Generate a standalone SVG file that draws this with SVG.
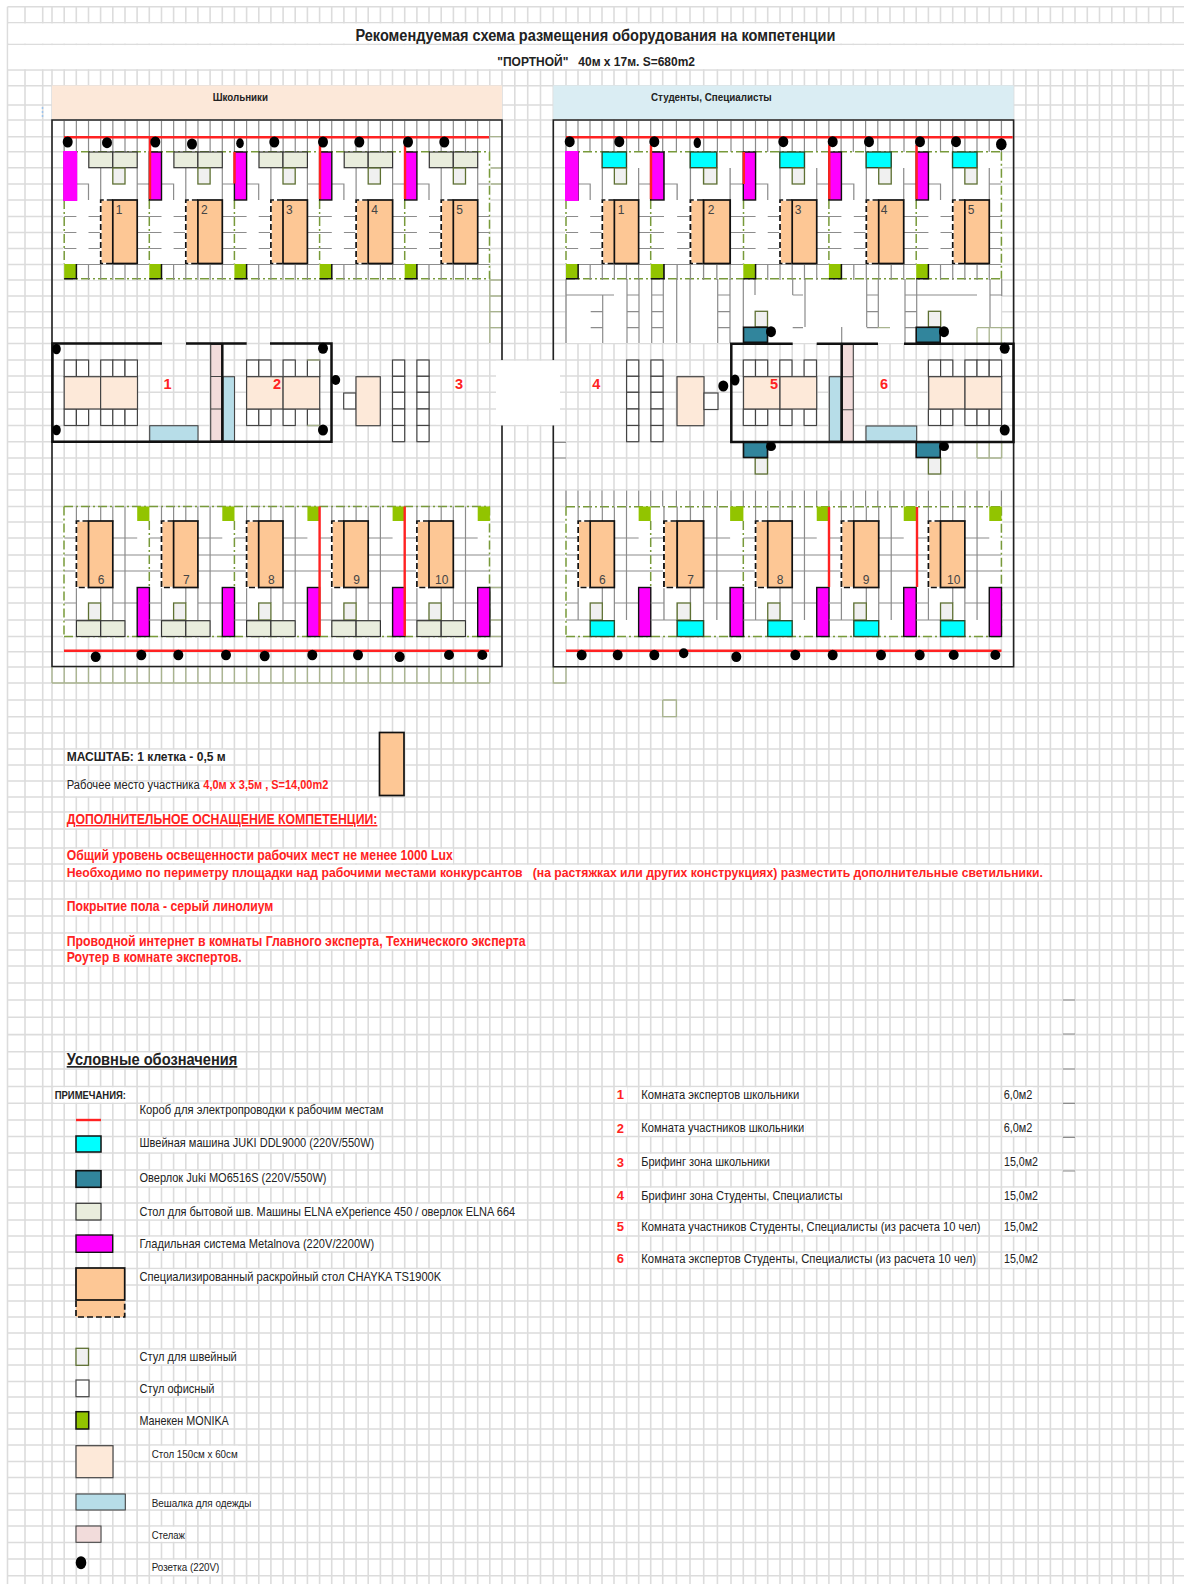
<svg xmlns="http://www.w3.org/2000/svg" xmlns:xlink="http://www.w3.org/1999/xlink" width="1184" height="1584" viewBox="0 0 1184 1584">
<style>
text{font-family:"Liberation Sans",Arial,sans-serif;fill:#222}
.b{font-weight:bold}
.r{fill:#f22;font-weight:bold}
.l{font-size:13px}
.k{font-size:12px}
.m{font-size:11px}
.n{font-size:12px;text-anchor:middle;fill:#444}
.rn{font-size:14.5px;font-weight:bold;fill:#f22;text-anchor:middle}
.u{text-decoration:underline}
.w{fill:#fff}
.g{fill:none;stroke:#8c8c8c;stroke-width:1.2}
.ol{fill:none;stroke:#a9b48f;stroke-width:1.3}
.f{fill:none;stroke:#222;stroke-width:1.6}
.wl{fill:none;stroke:#111;stroke-width:2.5}
.gd{fill:none;stroke:#789a3a;stroke-width:1.5;stroke-dasharray:9 3 2 3}
.gw{fill:none;stroke:#fff;stroke-width:2}
.rd{fill:none;stroke:#ff2222;stroke-width:2.4}
.mg{fill:#f0f;stroke:#111;stroke-width:1.4}
.mf{fill:#f0f}
.mn{fill:#92c400}
.o{fill:#fdc795}
.so{fill:#fdc795;stroke:#111;stroke-width:1.7}
.ds{fill:none;stroke:#111;stroke-width:1.7;stroke-dasharray:6 3}
.dw{fill:none;stroke:#fff;stroke-width:1.7}
.lt{fill:#e9eddd;stroke:#333;stroke-width:1.2}
.sc{fill:#f0f0f0;stroke:#5e7033;stroke-width:1.3}
.cy{fill:#0ff;stroke:#2b4a2b;stroke-width:1.4}
.te{fill:#31859c;stroke:#111;stroke-width:1.6}
.oc{fill:#fff;stroke:#444;stroke-width:1.2}
.t{fill:#fde9d9;stroke:#444;stroke-width:1.2}
.h{fill:#b7dde8;stroke:#444;stroke-width:1.1}
.s{fill:#f2dcdb;stroke:#444;stroke-width:1.1}
.dot{fill:#000}
</style>
<defs>
<path id="rv" d="M566 0v1M578 0v1M590 0v1M602 0v1M614 0v1M626.6 0v1M638.7 0v1M650.7 0v1M662.7 0v1M676.4 0v1M690 0v1M703.7 0v1M717.4 0v1M731 0v1M743.3 0v1M755.5 0v1M767.7 0v1M780 0v1M792.2 0v1M804.4 0v1M816.7 0v1M828.9 0v1M841.1 0v1M853.3 0v1M865.6 0v1M877.8 0v1M890 0v1M904 0v1M916.2 0v1M928.4 0v1M940.5 0v1M952.7 0v1M964.9 0v1M977 0v1M989.2 0v1M1001.4 0v1"/>
<g id="orT"><rect class="o" x="36.5" y="200" width="13" height="63.5"/><path class="dw" d="M48.6 200H36.5V263.5H48.6"/><path class="ds" d="M48.6 200H36.5V263.5H48.6"/><rect class="so" x="48.6" y="200" width="24.4" height="63.5"/></g>
<g id="orB"><rect class="o" x="12.2" y="521" width="13" height="66.5"/><path class="dw" d="M24.3 521H12.2V587.5H24.3"/><path class="ds" d="M24.3 521H12.2V587.5H24.3"/><rect class="so" x="24.3" y="521" width="24.3" height="66.5"/></g>
<g id="wsT">
<path class="g" d="M12.2 184H24.3V200M36.5 168V200M73 168V200M73 184H85.1M0 216.5H12.2M24.3 216.5H36.5M73 216.5H85.1M0 232.5H12.2M24.3 232.5H36.5M73 232.5H85.1M0 248.5H12.2M24.3 248.5H36.5M73 248.5H85.1M12.2 264.5H85.1M24.3 264.5V280M36.5 264.5V280M48.6 264.5V280M60.8 264.5V280M73 264.5V280"/>
<rect class="mg" x="0" y="152" width="12.2" height="48"/>
<use href="#orT"/>
<rect class="mn" x="0" y="264" width="12.2" height="14.7"/><path fill="none" stroke="#111" stroke-width="1.5" d="M12.2 264V278.7H0"/>
</g>
<g id="wsB">
<path class="g" d="M12.2 506.5V522M24.3 506.5V522M36.5 506.5V522M48.6 506.5V522M60.8 506.5V522M60.8 522V587.5M0 538H12.2M48.6 538H73M0 555H12.2M48.6 555H85.1M0 571H12.2M48.6 571H85.1M12.2 587.5V620M36.5 587.5V603M48.6 587.5V620M60.8 587.5V620M0 603H12.2M48.6 603H73M0 620H24.3"/>
<use href="#orB"/>
<rect class="mn" x="73" y="506.5" width="12.2" height="14.5"/>
<rect class="mg" x="73" y="587.5" width="12.2" height="49"/>
</g>
<g id="wsTa"><use href="#wsT"/><rect class="lt" x="24.6" y="152" width="24" height="15.7"/><rect class="lt" x="48.6" y="152" width="24.4" height="15.7"/><rect class="sc" x="48.6" y="168" width="12.2" height="16"/></g>
<g id="wsBa"><use href="#wsB"/><rect class="sc" x="24.3" y="603" width="12.2" height="17"/><rect class="lt" x="12.2" y="620.7" width="24.3" height="15.8"/><rect class="lt" x="36.5" y="620.7" width="24.3" height="15.8"/></g>
<g id="wsTb"><use href="#wsT"/><rect class="cy" x="36.3" y="152" width="24.5" height="15.7"/><rect class="sc" x="48.6" y="168" width="12.2" height="16"/></g>
<g id="wsBb"><use href="#wsB"/><rect class="sc" x="24.3" y="603" width="12.2" height="17"/><rect class="cy" x="24.3" y="620.7" width="24.3" height="15.8"/></g>
<g id="cSet5"><rect class="oc" x="0" y="360" width="12.2" height="16.5"/><rect class="oc" x="12.2" y="360" width="12.2" height="16.5"/><rect class="oc" x="36.5" y="360" width="12.2" height="16.5"/><rect class="oc" x="48.6" y="360" width="12.2" height="16.5"/><rect class="oc" x="60.8" y="360" width="12.4" height="16.5"/><rect class="oc" x="0" y="409" width="12.2" height="16.5"/><rect class="oc" x="12.2" y="409" width="12.2" height="16.5"/><rect class="oc" x="36.5" y="409" width="12.2" height="16.5"/><rect class="oc" x="48.6" y="409" width="12.2" height="16.5"/><rect class="oc" x="60.8" y="409" width="12.4" height="16.5"/></g>
<g id="cSet4"><rect class="oc" x="0" y="360" width="12.2" height="16.5"/><rect class="oc" x="12.2" y="360" width="12.2" height="16.5"/><rect class="oc" x="36.5" y="360" width="12.2" height="16.5"/><rect class="oc" x="60.8" y="360" width="12.4" height="16.5"/><rect class="oc" x="0" y="409" width="12.2" height="16.5"/><rect class="oc" x="12.2" y="409" width="12.2" height="16.5"/><rect class="oc" x="36.5" y="409" width="12.2" height="16.5"/><rect class="oc" x="60.8" y="409" width="12.4" height="16.5"/></g>
<g id="cCol"><rect class="oc" x="0" y="360" width="12.2" height="16.3"/><rect class="oc" x="0" y="376.3" width="12.2" height="16"/><rect class="oc" x="0" y="392.3" width="12.2" height="16.7"/><rect class="oc" x="0" y="409" width="12.2" height="16.5"/><rect class="oc" x="0" y="425.5" width="12.2" height="16.2"/></g>
</defs>

<g id="grid" fill="none" stroke="#dcdcdc" stroke-width="1.6">
<path d="M7.5 6.7V1584M25 6.7V1584M42.7 6.7V1584M52 6.7V1584M64.2 6.7V1584M76.3 6.7V1584M88.5 6.7V1584M100.6 6.7V1584M112.8 6.7V1584M125 6.7V1584M137.1 6.7V1584M149.3 6.7V1584M161.5 6.7V1584M173.6 6.7V1584M185.8 6.7V1584M197.9 6.7V1584M210.1 6.7V1584M222.3 6.7V1584M234.4 6.7V1584M246.6 6.7V1584M258.8 6.7V1584M270.9 6.7V1584M283.1 6.7V1584M295.2 6.7V1584M307.4 6.7V1584M319.6 6.7V1584M331.7 6.7V1584M343.9 6.7V1584M356.1 6.7V1584M368.2 6.7V1584M380.4 6.7V1584M392.5 6.7V1584M404.7 6.7V1584M416.9 6.7V1584M429 6.7V1584M441.2 6.7V1584M453.4 6.7V1584M465.5 6.7V1584M477.7 6.7V1584M489.8 6.7V1584M502 6.7V1584M514.8 6.7V1584M527.7 6.7V1584M540.5 6.7V1584M553.3 6.7V1584M566 6.7V1584M578 6.7V1584M590 6.7V1584M602 6.7V1584M614 6.7V1584M626.6 6.7V1584M638.7 6.7V1584M650.7 6.7V1584M662.7 6.7V1584M676.4 6.7V1584M690 6.7V1584M703.7 6.7V1584M717.4 6.7V1584M731 6.7V1584M743.3 6.7V1584M755.5 6.7V1584M767.7 6.7V1584M780 6.7V1584M792.2 6.7V1584M804.4 6.7V1584M816.7 6.7V1584M828.9 6.7V1584M841.1 6.7V1584M853.3 6.7V1584M865.6 6.7V1584M877.8 6.7V1584M890 6.7V1584M904 6.7V1584M916.2 6.7V1584M928.4 6.7V1584M940.5 6.7V1584M952.7 6.7V1584M964.9 6.7V1584M977 6.7V1584M989.2 6.7V1584M1001.4 6.7V1584M1013.6 6.7V1584M1025.9 6.7V1584M1038.2 6.7V1584M1050.4 6.7V1584M1062.7 6.7V1584M1075 6.7V1584M1087.3 6.7V1584M1099.5 6.7V1584M1111.8 6.7V1584M1124.1 6.7V1584M1136.4 6.7V1584M1148.6 6.7V1584M1160.9 6.7V1584M1173.2 6.7V1584"/>
<path d="M7.5 6.7H1184M7.5 22.7H1184M7.5 44.3H1184M7.5 70H1184M7.5 85.7H1184M7.5 105H1184M7.5 120H1184M7.5 136.7H1184M7.5 151.7H1184M7.5 167.7H1184M7.5 184H1184M7.5 200H1184M7.5 216.5H1184M7.5 232.5H1184M7.5 248.5H1184M7.5 264.5H1184M7.5 280H1184M7.5 296H1184M7.5 311.7H1184M7.5 327.7H1184M7.5 343.5H1184M7.5 360H1184M7.5 376H1184M7.5 392.3H1184M7.5 409H1184M7.5 425.5H1184M7.5 441.7H1184M7.5 458H1184M7.5 474H1184M7.5 490H1184M7.5 506.5H1184M7.5 522H1184M7.5 538H1184M7.5 555H1184M7.5 571H1184M7.5 587.5H1184M7.5 603H1184M7.5 620H1184M7.5 636.5H1184M7.5 651.7H1184M7.5 667H1184M7.5 683H1184M7.5 700H1184M7.5 716.7H1184M7.5 733H1184M7.5 749H1184M7.5 765H1184M7.5 781H1184M7.5 797H1184M7.5 812H1184M7.5 829H1184M7.5 848H1184M7.5 864H1184M7.5 881H1184M7.5 899H1184M7.5 916H1184M7.5 933H1184M7.5 950H1184M7.5 966H1184M7.5 983H1184M7.5 1000H1184M7.5 1017.3H1184M7.5 1034.6H1184M7.5 1051.8H1184M7.5 1069H1184M7.5 1086.5H1184M7.5 1103.3H1184M7.5 1120H1184M7.5 1136.5H1184M7.5 1153H1184M7.5 1170H1184M7.5 1187H1184M7.5 1203H1184M7.5 1220H1184M7.5 1236H1184M7.5 1252H1184M7.5 1268.5H1184M7.5 1285H1184M7.5 1301H1184M7.5 1317H1184M7.5 1333H1184M7.5 1349H1184M7.5 1365H1184M7.5 1381.5H1184M7.5 1397H1184M7.5 1413H1184M7.5 1429H1184M7.5 1445H1184M7.5 1461.5H1184M7.5 1477.5H1184M7.5 1493.5H1184M7.5 1510H1184M7.5 1526H1184M7.5 1542.5H1184M7.5 1559H1184M7.5 1575.7H1184"/>
</g>

<g id="cell-backgrounds">
<rect class="w" x="8.5" y="23.5" width="1176" height="20"/>
<rect class="w" x="8.5" y="45.1" width="1176" height="24"/>
<rect class="w" x="496" y="360.8" width="64" height="64"/>
<rect class="w" x="65" y="121" width="424" height="159"/>
<rect class="w" x="567" y="121" width="434" height="222"/>
<rect class="w" x="65" y="507.3" width="424" height="129"/>
<rect class="w" x="567" y="490.8" width="434" height="145.6"/>
<rect class="w" x="66" y="749.8" width="160" height="14.4"/>
<rect class="w" x="66" y="781.8" width="263" height="14.4"/>
<rect class="w" x="66" y="812.8" width="312" height="15.4"/>
<rect class="w" x="66" y="848.8" width="387" height="14.4"/>
<rect class="w" x="66" y="864.8" width="978" height="15.4"/>
<rect class="w" x="66" y="899.8" width="208" height="15.4"/>
<rect class="w" x="66" y="933.8" width="460" height="15.4"/>
<rect class="w" x="66" y="950.8" width="176" height="14.4"/>
<rect class="w" x="66" y="1052.6" width="172" height="15.6"/>
<rect class="w" x="54" y="1087.3" width="72" height="15.2"/>
<rect class="w" x="139" y="1104.1" width="245" height="15.1"/>
<rect class="w" x="139" y="1137.3" width="236" height="14.9"/>
<rect class="w" x="139" y="1170.8" width="188" height="15.4"/>
<rect class="w" x="139" y="1203.8" width="377" height="15.4"/>
<rect class="w" x="139" y="1236.8" width="236" height="14.4"/>
<rect class="w" x="139" y="1269.3" width="303" height="14.9"/>
<rect class="w" x="139" y="1349.8" width="98" height="14.4"/>
<rect class="w" x="139" y="1382.3" width="76" height="13.9"/>
<rect class="w" x="139" y="1413.8" width="90" height="14.4"/>
<rect class="w" x="151" y="1445.8" width="87" height="14.9"/>
<rect class="w" x="151" y="1494.3" width="101" height="14.9"/>
<rect class="w" x="151" y="1526.8" width="34" height="14.9"/>
<rect class="w" x="151" y="1559.8" width="69" height="15.1"/>
<rect class="w" x="615" y="1087.3" width="12" height="15.2"/><rect class="w" x="640" y="1087.3" width="160" height="15.2"/><rect class="w" x="1003" y="1087.3" width="30" height="15.2"/>
<rect class="w" x="615" y="1120.8" width="12" height="14.9"/><rect class="w" x="640" y="1120.8" width="165" height="14.9"/><rect class="w" x="1003" y="1120.8" width="30" height="14.9"/>
<rect class="w" x="615" y="1153.8" width="12" height="15.4"/><rect class="w" x="640" y="1153.8" width="131" height="15.4"/><rect class="w" x="1003" y="1153.8" width="36" height="15.4"/>
<rect class="w" x="615" y="1187.8" width="12" height="14.4"/><rect class="w" x="640" y="1187.8" width="203" height="14.4"/><rect class="w" x="1003" y="1187.8" width="36" height="14.4"/>
<rect class="w" x="615" y="1220.8" width="12" height="14.4"/><rect class="w" x="640" y="1220.8" width="341" height="14.4"/><rect class="w" x="1003" y="1220.8" width="36" height="14.4"/>
<rect class="w" x="615" y="1252.8" width="12" height="14.9"/><rect class="w" x="640" y="1252.8" width="336" height="14.9"/><rect class="w" x="1003" y="1252.8" width="36" height="14.9"/>
</g>

<g id="title">
<text class="b" font-size="16" x="355.4" y="40.5" textLength="480" lengthAdjust="spacingAndGlyphs">Рекомендуемая схема размещения оборудования на компетенции</text>
<text class="b" font-size="13.5" x="497.3" y="65.5" textLength="197.7" lengthAdjust="spacingAndGlyphs" xml:space="preserve">"ПОРТНОЙ"   40м х 17м. S=680m2</text>
<path fill="none" stroke="#9cc3ec" stroke-width="1.5" stroke-dasharray="2 2" d="M42.5 107V118"/>
</g>

<g id="hall-school">
<rect id="band-school" x="52" y="85.5" width="450" height="33.5" fill="#fce8d9"/>
<text class="b" font-size="10.5" x="212.7" y="101" textLength="55.3" lengthAdjust="spacingAndGlyphs">Школьники</text>
<path fill="none" stroke="#8c8c8c" stroke-width="31" stroke-dasharray="1.2 10.96" d="M63.6 136.5H490"/>
<path class="ol" d="M489.8 136.7H502M489.8 168H502M489.8 184H502M489.8 280H502M489.8 296H502M489.8 311.7H502M489.8 327.7H502M489.8 264V343M489.8 587.5H502M489.8 620H502M489.8 636.5H502M52 683H490M52 667V683M64.2 667V683M76.3 667V683M88.5 667V683M100.6 667V683M112.8 667V683M125 667V683M137.1 667V683M149.3 667V683M161.5 667V683M173.6 667V683M185.8 667V683M197.9 667V683M210.1 667V683M222.3 667V683M234.4 667V683M246.6 667V683M258.8 667V683M270.9 667V683M283.1 667V683M295.2 667V683M307.4 667V683M319.6 667V683M331.7 667V683M343.9 667V683M356.1 667V683M368.2 667V683M380.4 667V683M392.5 667V683M404.7 667V683M416.9 667V683M429 667V683M441.2 667V683M453.4 667V683M465.5 667V683M477.7 667V683M489.8 667V683"/>
<path class="gw" d="M64.2 200V263.5M149.3 200V263.5M234.4 200V263.5M319.6 200V263.5M404.7 200V263.5M489.5 152V278M64 507V637M149.3 521V587M234.4 521V587M489.5 507V637"/>
<path class="gd" d="M64 151.7H489.5M64 278.7H489.5M64.2 200V263.5M149.3 200V263.5M234.4 200V263.5M319.6 200V263.5M404.7 200V263.5M489.5 151.7V278.7M64 506.5H489.5M64 636.5H489.5M64 506.5V636.5M149.3 521V587M234.4 521V587M489.5 506.5V636.5"/>
<g id="ws-a1" transform="translate(64.2)"><use href="#wsTa"/><rect class="mf" x="-1" y="151" width="14" height="50"/><text class="n" x="55" y="213.5">1</text></g>
<g id="ws-a2" transform="translate(149.3)"><use href="#wsTa"/><text class="n" x="55" y="213.5">2</text></g>
<g id="ws-a3" transform="translate(234.4)"><use href="#wsTa"/><text class="n" x="55" y="213.5">3</text></g>
<g id="ws-a4" transform="translate(319.6)"><use href="#wsTa"/><text class="n" x="55" y="213.5">4</text></g>
<g id="ws-a5" transform="translate(404.7)"><use href="#wsTa"/><text class="n" x="55" y="213.5">5</text></g>
<g id="ws-a6" transform="translate(64.2)"><use href="#wsBa"/><text class="n" x="37" y="584">6</text></g>
<g id="ws-a7" transform="translate(149.3)"><use href="#wsBa"/><text class="n" x="37" y="584">7</text></g>
<g id="ws-a8" transform="translate(234.4)"><use href="#wsBa"/><text class="n" x="37" y="584">8</text></g>
<g id="ws-a9" transform="translate(319.6)"><use href="#wsBa"/><text class="n" x="37" y="584">9</text></g>
<g id="ws-a10" transform="translate(404.7)"><use href="#wsBa"/><text class="n" x="37" y="584">10</text></g>
<path class="f" d="M52 360V120H502V360M502 425.5V666.5H52V360"/>
<g id="room-1-2">
<path class="s" d="M210.7 344.5H222.3V441H210.7Z"/><path class="s" d="M210.7 376.5H222.3M210.7 409H222.3"/>
<rect class="h" x="223" y="376.7" width="11.5" height="64.5"/>
<rect class="h" x="149.7" y="425.7" width="48.3" height="15.5"/>
<path class="wl" d="M162 343.5H52.5V441.7H331.5V343.5H270M186 343.5H246.7M222.3 343.5V441.7"/>
<use href="#cSet5" transform="translate(64.2)"/>
<use href="#cSet4" transform="translate(246.6)"/>
<path class="ol" d="M307.4 360H319.7M307.4 425.5H319.7"/>
<rect class="t" x="64.2" y="376.7" width="36.4" height="32.3"/><rect class="t" x="100.6" y="376.7" width="36.9" height="32.3"/>
<rect class="t" x="246.6" y="376.7" width="36.5" height="32.3"/><rect class="t" x="283.1" y="376.7" width="36.6" height="32.3"/>
<text class="rn" x="167.5" y="389">1</text><text class="rn" x="277" y="389">2</text>
</g>
<g id="brief-3">
<use href="#cCol" transform="translate(392.5)"/><use href="#cCol" transform="translate(416.9)"/>
<rect class="oc" x="343.7" y="393" width="12.3" height="16"/>
<rect class="t" x="356" y="376.7" width="24.3" height="49"/>
<text class="rn" x="459" y="389">3</text>
</g>
<g id="power-school">
<path class="rd" stroke-width="3" d="M64 137.3H489"/>
<path class="rd" d="M150 137V199M234.5 152V183.5M320 145V199M405 145V199M319.6 506.5V636M404.7 506.5V636M64 650.7H489"/>
<g class="dot">
<ellipse cx="67.7" cy="142" rx="5" ry="5.5"/><ellipse cx="107" cy="142.7" rx="5" ry="5.5"/><ellipse cx="155.3" cy="142" rx="5" ry="5.5"/><ellipse cx="192" cy="144" rx="5" ry="5.5"/><ellipse cx="240" cy="143.3" rx="3.8" ry="5"/><ellipse cx="274.3" cy="142" rx="5" ry="5.5"/><ellipse cx="323" cy="142" rx="5" ry="5.5"/><ellipse cx="359.3" cy="142" rx="5" ry="5.5"/><ellipse cx="408" cy="142" rx="5" ry="5.5"/><ellipse cx="444.3" cy="142" rx="5" ry="5.5"/>
<ellipse cx="95.7" cy="656.7" rx="5" ry="5.3"/><ellipse cx="141.3" cy="655" rx="5" ry="5.3"/><ellipse cx="178.3" cy="655" rx="5" ry="5.3"/><ellipse cx="226" cy="655" rx="5" ry="5.3"/><ellipse cx="264.7" cy="656" rx="5" ry="5.3"/><ellipse cx="312.3" cy="655" rx="5" ry="5.3"/><ellipse cx="358" cy="655" rx="5" ry="5.3"/><ellipse cx="399.7" cy="656.7" rx="5" ry="5.3"/><ellipse cx="449" cy="655" rx="5" ry="5"/><ellipse cx="482.3" cy="655" rx="5" ry="5"/>
<ellipse cx="56.5" cy="349" rx="4.3" ry="5.3"/><ellipse cx="56.5" cy="430" rx="4.3" ry="5.3"/><ellipse cx="323" cy="348.3" rx="5" ry="5.5"/><ellipse cx="323" cy="430" rx="5" ry="5.5"/><ellipse cx="335.7" cy="380" rx="4.5" ry="5"/>
</g>
</g>
</g>

<g id="hall-students">
<rect id="band-students" x="553.3" y="85.5" width="460.3" height="33.5" fill="#daedf3"/>
<text class="b" font-size="10.5" x="651" y="101" textLength="120.7" lengthAdjust="spacingAndGlyphs">Студенты, Специалисты</text>
<g class="g">
<use href="#rv" transform="translate(0 121) scale(1 31)"/>
<use href="#rv" transform="translate(0 490.5) scale(1 16)"/>
<path d="M566 279V343M602.7 295V343M627 279V343M639 279V343M651.7 279V343M663.3 279V343M676.7 279V343M690 279V343M717.7 279V343M730 279V343M743.3 279V327M755 279V295M792.7 279V295M805 279V327M841.7 327V343M866.7 279V327M878.3 279V327M905 279V343M916.7 279V343M990 279V327M1001.7 279V296M566 295H614M627 295H639M651.7 295H663.3M717.7 295H730M792.7 295H803M866.7 295H878.3M905 295H977M990 295H1001.7M590.7 311.7H602.7M627 311.7H639M651.7 311.7H663.3M717.7 311.7H730M866.7 311.7H878.3M905 311.7H916.7M590.7 327.7H602.7M627 327.7H639M651.7 327.7H663.3M717.7 327.7H730M792.7 327.7H803M866.7 327.7H878.3M905 327.7H916.7M553.3 442.3H566M553.3 458H566"/>
</g>
<path class="ol" d="M977 327.7H1013M877.8 327.7H890M977 327.7V343M989.2 327.7V343M1001.4 327.7V343M977 458H1001.7M977 442V458M989.2 442V458M1001.7 442V458M553.3 667V683H566V667M662.7 700V716.7H676.4V700H662.7"/>
<path class="gw" d="M566 200V263.5M650.7 200V263.5M743.5 200V263.5M828.9 200V263.5M916.2 200V263.5M1001.4 152V278M566 507V636M650.7 521V587M743.3 521V587M1001.4 507V636"/>
<path class="gd" d="M566 151.7H1001.4M566 278.7H1001.4M566 200V263.5M650.7 200V263.5M743.5 200V263.5M828.9 200V263.5M916.2 200V263.5M1001.4 151.7V278.7M566 506.7H1001.4M566 636.4H1001.4M566 506.7V636.4M650.7 521V587M743.3 521V587M1001.4 506.7V636.4"/>
<g id="ws-b1"><use href="#wsTb" transform="translate(566) scale(.995 1)"/><rect class="mf" x="565" y="151" width="13.5" height="50"/><text class="n" x="621" y="213.5">1</text></g>
<g id="ws-b2"><use href="#wsTb" transform="translate(650.7) scale(1.088 1)"/><text class="n" x="711" y="213.5">2</text></g>
<g id="ws-b3"><use href="#wsTb" transform="translate(743.3) scale(1.006 1)"/><text class="n" x="798" y="213.5">3</text></g>
<g id="ws-b4"><use href="#wsTb" transform="translate(828.9) scale(1.025 1)"/><text class="n" x="884" y="213.5">4</text></g>
<g id="ws-b5"><use href="#wsTb" transform="translate(916.2) scale(1.001 1)"/><text class="n" x="971" y="213.5">5</text></g>
<g id="ws-b6"><use href="#wsBb" transform="translate(566) scale(.995 1)"/><text class="n" x="602.3" y="584">6</text></g>
<g id="ws-b7"><use href="#wsBb" transform="translate(650.7) scale(1.088 1)"/><text class="n" x="690.7" y="584">7</text></g>
<g id="ws-b8"><use href="#wsBb" transform="translate(743.3) scale(1.006 1)"/><text class="n" x="780" y="584">8</text></g>
<g id="ws-b9"><use href="#wsBb" transform="translate(828.9) scale(1.025 1)"/><text class="n" x="866" y="584">9</text></g>
<g id="ws-b10"><use href="#wsBb" transform="translate(916.2) scale(1.001 1)"/><text class="n" x="953.7" y="584">10</text></g>
<path class="f" d="M553.3 360V120H1013.6V666.7H553.3V425.5"/>
<g id="room-5-6">
<rect class="s" x="842" y="344.5" width="11.3" height="97"/><path class="s" d="M842 376.7H853.3M842 409.7H853.3"/>
<rect class="h" x="829.3" y="376.7" width="11.7" height="64.5"/>
<rect class="h" x="866" y="426" width="50.7" height="15"/>
<path class="wl" d="M792.7 343.7H731.3V442H1013.5V343.7H904M816.7 343.7H878M841.7 343.7V442"/>
<use href="#cSet4" transform="translate(743.3)"/>
<use href="#cSet5" transform="translate(928.4)"/>
<rect class="t" x="743.5" y="376.7" width="36.5" height="32.3"/><rect class="t" x="780" y="376.7" width="36.7" height="32.3"/>
<rect class="t" x="928.7" y="376.7" width="36.3" height="32.3"/><rect class="t" x="965" y="376.7" width="36.7" height="32.3"/>
<text class="rn" x="774" y="389">5</text><text class="rn" x="884" y="389">6</text>
</g>
<g id="brief-4">
<use href="#cCol" transform="translate(626.6)"/><use href="#cCol" transform="translate(650.9)"/>
<rect class="t" x="677" y="376.7" width="27" height="49"/>
<rect class="oc" x="704" y="393" width="14" height="16.5"/>
<text class="rn" x="596.3" y="389">4</text>
</g>
<g id="overlock-1"><rect class="sc" x="755.2" y="311.3" width="12.3" height="15.7"/><rect class="te" x="743.5" y="327.3" width="24" height="15"/></g>
<g id="overlock-2"><rect class="sc" x="928.4" y="311.3" width="12.3" height="15.7"/><rect class="te" x="916.2" y="327.3" width="24" height="15"/></g>
<g id="overlock-3"><rect class="sc" x="755.2" y="458" width="12.3" height="16"/><rect class="te" x="743.5" y="442.5" width="24" height="15"/></g>
<g id="overlock-4"><rect class="sc" x="928.4" y="458" width="12.3" height="16"/><rect class="te" x="916.2" y="442.5" width="24" height="15"/></g>
<g id="power-students">
<path class="rd" stroke-width="3" d="M566 137.3H1012.7"/>
<path class="rd" d="M651 145V199M743.8 152V184M829.3 145V199M916.6 145V199M829 507V587M917 507V587M566 650.7H1001.5"/>
<g class="dot">
<ellipse cx="569.7" cy="141.7" rx="5" ry="5.5"/><ellipse cx="619.3" cy="141.7" rx="5" ry="5.5"/><ellipse cx="654.3" cy="141.7" rx="5" ry="5.5"/><ellipse cx="697.3" cy="142.7" rx="3.7" ry="5.3"/><ellipse cx="783.3" cy="141.7" rx="5" ry="5.5"/><ellipse cx="832.7" cy="141.7" rx="5" ry="5.5"/><ellipse cx="869" cy="141.7" rx="5" ry="5.5"/><ellipse cx="920" cy="141.7" rx="5" ry="5.5"/><ellipse cx="956" cy="141.7" rx="5" ry="5.5"/><ellipse cx="1001.3" cy="144.3" rx="5.3" ry="6"/>
<ellipse cx="581.7" cy="655" rx="5" ry="5.3"/><ellipse cx="617.7" cy="655" rx="5" ry="5.3"/><ellipse cx="654.3" cy="655" rx="5" ry="5.3"/><ellipse cx="683.7" cy="653.3" rx="4.7" ry="5"/><ellipse cx="736.3" cy="656.7" rx="5" ry="5.3"/><ellipse cx="795.3" cy="655" rx="5" ry="5.3"/><ellipse cx="832.7" cy="655" rx="5" ry="5.3"/><ellipse cx="881" cy="655" rx="5" ry="5.3"/><ellipse cx="919.7" cy="655" rx="5" ry="5.3"/><ellipse cx="953.7" cy="655" rx="5" ry="5"/><ellipse cx="995.3" cy="655" rx="5" ry="5"/>
<ellipse cx="771" cy="331.7" rx="5" ry="5.5"/><ellipse cx="944" cy="331.7" rx="5" ry="5.5"/><ellipse cx="771" cy="446.5" rx="5" ry="4.5"/><ellipse cx="944" cy="446.5" rx="5" ry="4.5"/>
<ellipse cx="1004.7" cy="348.3" rx="5" ry="5.5"/><ellipse cx="1004.7" cy="430" rx="5" ry="5.5"/><ellipse cx="735" cy="380" rx="4.5" ry="5.5"/><ellipse cx="723.3" cy="386" rx="5" ry="5.5"/>
</g>
</g>
</g>

<g id="notes">
<text class="b" font-size="13" x="66.7" y="761" textLength="159" lengthAdjust="spacingAndGlyphs">МАСШТАБ: 1 клетка - 0,5 м</text>
<text font-size="12" x="66.7" y="788.5" textLength="133" lengthAdjust="spacingAndGlyphs">Рабочее место участника</text>
<text class="r" font-size="12" x="203.3" y="788.5" textLength="125" lengthAdjust="spacingAndGlyphs">4,0м х 3,5м , S=14,00m2</text>
<rect class="so" x="379.5" y="732.5" width="24.5" height="63"/>
<text class="r u" font-size="14" x="66.7" y="824" textLength="310.7" lengthAdjust="spacingAndGlyphs">ДОПОЛНИТЕЛЬНОЕ ОСНАЩЕНИЕ КОМПЕТЕНЦИИ:</text>
<text class="r" font-size="14" x="66.7" y="860" textLength="386" lengthAdjust="spacingAndGlyphs">Общий уровень освещенности рабочих мест не менее 1000 Lux</text>
<text class="r" font-size="13" x="66.7" y="877" textLength="976.3" lengthAdjust="spacingAndGlyphs" xml:space="preserve">Необходимо по периметру площадки над рабочими местами конкурсантов   (на растяжках или других конструкциях) разместить дополнительные светильники.</text>
<text class="r" font-size="14" x="66.7" y="911" textLength="206.7" lengthAdjust="spacingAndGlyphs">Покрытие пола - серый линолиум</text>
<text class="r" font-size="14" x="66.7" y="945.5" textLength="459" lengthAdjust="spacingAndGlyphs">Проводной интернет в комнаты Главного эксперта, Технического эксперта</text>
<text class="r" font-size="14" x="66.7" y="962" textLength="175" lengthAdjust="spacingAndGlyphs">Роутер в комнате экспертов.</text>
<text class="b u" font-size="17" x="66.7" y="1065" textLength="170.7" lengthAdjust="spacingAndGlyphs">Условные обозначения</text>
<text class="b" font-size="10.5" x="54.7" y="1098.5" textLength="71.3" lengthAdjust="spacingAndGlyphs">ПРИМЕЧАНИЯ:</text>
<path class="g" d="M1063 1000H1075M1063 1034H1075M1063 1069H1075M1063 1103.3H1075M1063 1137.3H1075M1063 1171H1075"/>
</g>

<g id="legend">
<g id="lg-duct"><path class="rd" stroke-width="2" d="M76 1120H101"/><text class="l" x="139.5" y="1114" textLength="244" lengthAdjust="spacingAndGlyphs">Короб для электропроводки к рабочим местам</text></g>
<g id="lg-sew"><rect x="76" y="1136" width="25" height="16" fill="#0ff" stroke="#111" stroke-width="1.5"/><text class="l" x="139.5" y="1147" textLength="234.7" lengthAdjust="spacingAndGlyphs">Швейная машина JUKI DDL9000 (220V/550W)</text></g>
<g id="lg-overlock"><rect class="te" x="76" y="1170.7" width="25" height="16.6"/><text class="l" x="139.5" y="1182" textLength="187" lengthAdjust="spacingAndGlyphs">Оверлок Juki MO6516S (220V/550W)</text></g>
<g id="lg-table"><rect class="lt" x="76" y="1203.3" width="25" height="16.7"/><text class="l" x="139.5" y="1216" textLength="375.7" lengthAdjust="spacingAndGlyphs">Стол для бытовой шв. Машины ELNA eXperience 450 / оверлок ELNA 664</text></g>
<g id="lg-iron"><rect class="mg" x="76" y="1235" width="36.7" height="17.3"/><text class="l" x="139.5" y="1248" textLength="234.7" lengthAdjust="spacingAndGlyphs">Гладильная система Metalnova (220V/2200W)</text></g>
<g id="lg-cut"><rect class="o" x="76" y="1300" width="48.7" height="17"/><path class="ds" d="M76 1301V1317H124.7V1301"/><rect class="so" x="76" y="1268" width="48.7" height="32"/><text class="l" x="139.5" y="1281" textLength="301.7" lengthAdjust="spacingAndGlyphs">Специализированный раскройный стол CHAYKA TS1900K</text></g>
<g id="lg-schair"><rect class="sc" x="76" y="1348.3" width="12.5" height="17"/><text class="l" x="139.5" y="1361" textLength="97.3" lengthAdjust="spacingAndGlyphs">Стул для швейный</text></g>
<g id="lg-ochair"><rect class="oc" x="76" y="1380" width="13" height="16.7"/><text class="l" x="139.5" y="1393" textLength="75" lengthAdjust="spacingAndGlyphs">Стул офисный</text></g>
<g id="lg-dummy"><rect class="mn" x="76" y="1411.7" width="12.7" height="17.3" stroke="#111" stroke-width="1.5"/><text class="l" x="139.5" y="1425" textLength="89.3" lengthAdjust="spacingAndGlyphs">Манекен MONIKA</text></g>
<g id="lg-desk"><rect class="t" x="76" y="1445.7" width="37" height="32"/><text class="m" x="151.7" y="1458" textLength="86" lengthAdjust="spacingAndGlyphs">Стол 150см х 60см</text></g>
<g id="lg-hanger"><rect class="h" x="76" y="1494" width="49.3" height="16"/><text class="m" x="151.7" y="1506.5" textLength="99.7" lengthAdjust="spacingAndGlyphs">Вешалка для одежды</text></g>
<g id="lg-shelf"><rect class="s" x="76" y="1526" width="25" height="16.3"/><text class="m" x="151.7" y="1539" textLength="33.3" lengthAdjust="spacingAndGlyphs">Стелаж</text></g>
<g id="lg-outlet"><ellipse class="dot" cx="81" cy="1562.7" rx="5.3" ry="6.5"/><text class="m" x="151.7" y="1571" textLength="67.7" lengthAdjust="spacingAndGlyphs">Розетка (220V)</text></g>
</g>

<g id="rooms-list">
<g id="rl-1"><text class="rn" style="font-size:13px" x="620.3" y="1099">1</text><text class="k" x="641.3" y="1098.5" textLength="158" lengthAdjust="spacingAndGlyphs">Комната экспертов школьники</text><text class="k" x="1003.7" y="1098.5" textLength="28.7" lengthAdjust="spacingAndGlyphs">6,0м2</text></g>
<g id="rl-2"><text class="rn" style="font-size:13px" x="620.3" y="1132.5">2</text><text class="k" x="641.3" y="1132" textLength="163" lengthAdjust="spacingAndGlyphs">Комната участников школьники</text><text class="k" x="1003.7" y="1132" textLength="28.7" lengthAdjust="spacingAndGlyphs">6,0м2</text></g>
<g id="rl-3"><text class="rn" style="font-size:13px" x="620.3" y="1166.5">3</text><text class="k" x="641.3" y="1166" textLength="128.7" lengthAdjust="spacingAndGlyphs">Брифинг зона школьники</text><text class="k" x="1004" y="1166" textLength="34" lengthAdjust="spacingAndGlyphs">15,0м2</text></g>
<g id="rl-4"><text class="rn" style="font-size:13px" x="620.3" y="1200">4</text><text class="k" x="641.3" y="1199.5" textLength="201.3" lengthAdjust="spacingAndGlyphs">Брифинг зона Студенты, Специалисты</text><text class="k" x="1004" y="1199.5" textLength="34" lengthAdjust="spacingAndGlyphs">15,0м2</text></g>
<g id="rl-5"><text class="rn" style="font-size:13px" x="620.3" y="1231">5</text><text class="k" x="641.3" y="1230.5" textLength="339.3" lengthAdjust="spacingAndGlyphs">Комната участников Студенты, Специалисты (из расчета 10 чел)</text><text class="k" x="1004" y="1230.5" textLength="34" lengthAdjust="spacingAndGlyphs">15,0м2</text></g>
<g id="rl-6"><text class="rn" style="font-size:13px" x="620.3" y="1263">6</text><text class="k" x="641.3" y="1262.5" textLength="334.7" lengthAdjust="spacingAndGlyphs">Комната экспертов Студенты, Специалисты (из расчета 10 чел)</text><text class="k" x="1004" y="1262.5" textLength="34" lengthAdjust="spacingAndGlyphs">15,0м2</text></g>
</g>
</svg>
